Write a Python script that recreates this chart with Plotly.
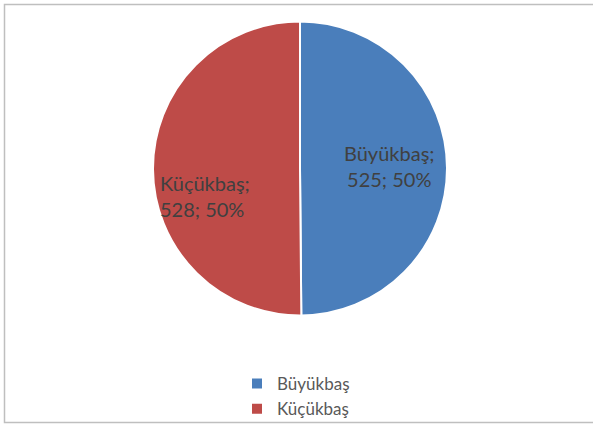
import plotly.graph_objects as go

labels = ["Büyükbaş", "Küçükbaş"]
values = [525, 528]
colors = ["#4A7EBB", "#BE4B48"]

W, H = 593, 424

total = sum(values)
pct = [round(100 * v / total) for v in values]

fig = go.Figure(go.Pie(
    labels=labels, values=values, sort=False, direction="clockwise", rotation=0,
    marker=dict(colors=colors, line=dict(color="white", width=2)),
    textinfo="none", hoverinfo="label+value+percent",
    domain=dict(x=[153 / W, 447 / W], y=[1 - 316 / H, 1 - 21 / H]),
))

# data labels, placed the way the original chart has them
label_pos = [(389, 166, "center"), (158, 196, "left")]
for lab, v, p, (px, py, al) in zip(labels, values, pct, label_pos):
    fig.add_annotation(
        text=f"{lab};<br>{v}; {p}%", xref="paper", yref="paper",
        x=px / W, y=1 - py / H, xanchor=al, yanchor="middle", align=al,
        showarrow=False, font=dict(family="Lato", size=20, color="#404040"),
    )

fig.update_layout(
    width=W, height=H, margin=dict(l=0, r=0, t=0, b=0, autoexpand=False),
    paper_bgcolor="white", plot_bgcolor="white",
    showlegend=True,
    legend=dict(x=237 / W, y=1 - 366 / H, xanchor="left", yanchor="top",
                bgcolor="rgba(0,0,0,0)", tracegroupgap=0,
                font=dict(family="Lato", size=17, color="#595959"),
                itemwidth=30),
    shapes=[dict(type="rect", xref="paper", yref="paper",
                 x0=4.5 / W, x1=1.02, y0=1 - 422.5 / H, y1=1 - 4.5 / H,
                 line=dict(color="#BFBFBF", width=1.5))],
)

# drop the browser's default 8px body margin so the figure sits at the window corner
fig.write_html("out.html", config={"displayModeBar": False},
               post_script="document.body.style.margin='0';")
